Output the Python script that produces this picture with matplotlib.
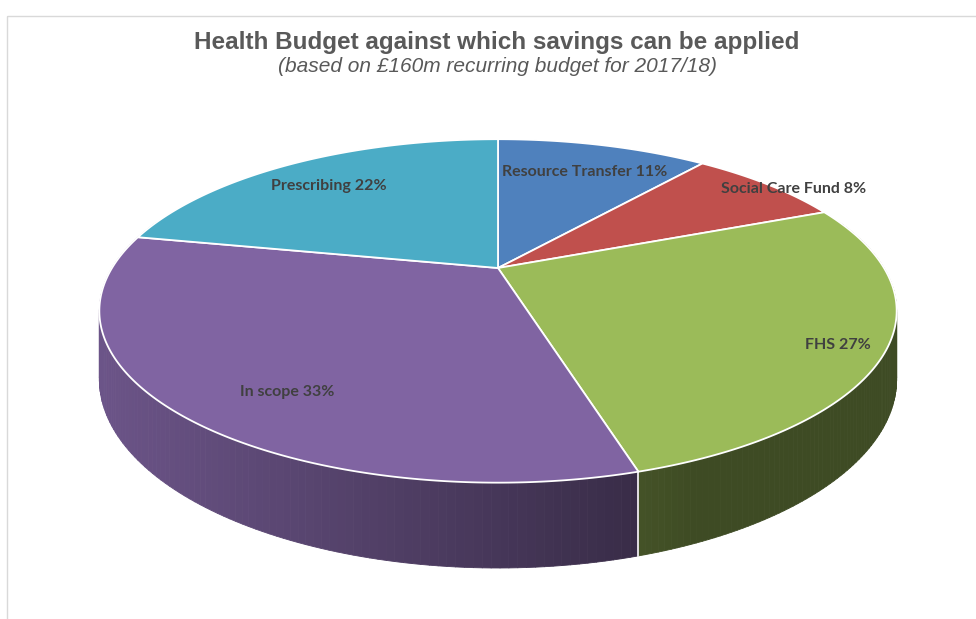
import numpy as np
import matplotlib
matplotlib.use("Agg")
import matplotlib.pyplot as plt
from matplotlib.collections import PolyCollection
from matplotlib.patches import Polygon, Rectangle
from matplotlib.colors import to_rgb

# data
labels = ["Resource Transfer", "Social Care Fund", "FHS", "In scope", "Prescribing"]
values = [11, 8, 27, 33, 22]
colors = ["#4f81bd", "#c0504d", "#9bbb59", "#8064a2", "#4bacc6"]
label_pos = [(585, 172), (794, 189), (838, 345), (287, 392), (329, 186)]

title = "Health Budget against which savings can be applied"
subtitle = "(based on \u00a3160m recurring budget for 2017/18)"

# projection of the tilted disc (pixel units)
cx, ay = 498, 268
F, G, k = 386, 161, 0.25
depth = 64


def proj(theta, z=0.0):
    X, Y = np.sin(theta), np.cos(theta)
    den = 1 + k * Y
    return cx + F * X / den, ay - G * Y / den + z / den


def shade(col, x):
    f = np.clip(0.84 - (x - 100) * (0.39 / 528), 0.4, 0.84)
    return tuple(c * f for c in to_rgb(col))


fig = plt.figure(figsize=(9.76, 6.19), dpi=100)
ax = fig.add_axes([0, 0, 1, 1])
ax.set_xlim(0, 976)
ax.set_ylim(619, 0)
ax.axis("off")

# chart frame
ax.add_patch(Rectangle((7, 16), 1000, 700, fill=False, ec="#d9d9d9", lw=1))

fracs = np.array(values) / sum(values)
bounds = np.concatenate([[0], np.cumsum(fracs)]) * 2 * np.pi

# sides first
quads, qcols = [], []
for i in range(len(values)):
    th = np.linspace(bounds[i], bounds[i + 1], 120)
    for a, b in zip(th[:-1], th[1:]):
        if np.cos((a + b) / 2) > 0.3:
            continue
        x1, y1 = proj(a)
        x2, y2 = proj(b)
        x3, y3 = proj(b, depth)
        x4, y4 = proj(a, depth)
        quads.append([(x1, y1), (x2, y2), (x3, y3), (x4, y4)])
        qcols.append(shade(colors[i], (x1 + x2) / 2))
ax.add_collection(PolyCollection(quads, facecolors=qcols, edgecolors=qcols, lw=0.6))

# edge lines of side between slices at front
for b in bounds[1:-1]:
    if np.cos(b) < -0.2:
        x1, y1 = proj(b)
        x2, y2 = proj(b, depth)
        ax.plot([x1, x2], [y1, y2], color="white", lw=1.2)

# top faces
for i in range(len(values)):
    th = np.linspace(bounds[i], bounds[i + 1], 200)
    xs, ys = proj(th)
    pts = [(cx, ay)] + list(zip(xs, ys))
    ax.add_patch(Polygon(pts, closed=True, fc=colors[i], ec="white", lw=1.3))

for (lx, ly), lab, v in zip(label_pos, labels, values):
    ax.text(lx, ly, f"{lab} {v}%", ha="center", va="center", fontsize=11.5,
            fontweight="bold", color="#404040", family="Lato")

ax.text(497, 43, title, ha="center", va="center", fontsize=17.5, fontweight="bold",
        color="#595959", family="Liberation Sans")
ax.text(497, 67, subtitle, ha="center", va="center", fontsize=15, style="italic",
        color="#595959", family="Liberation Sans")

fig.savefig("out.png", dpi=100)
